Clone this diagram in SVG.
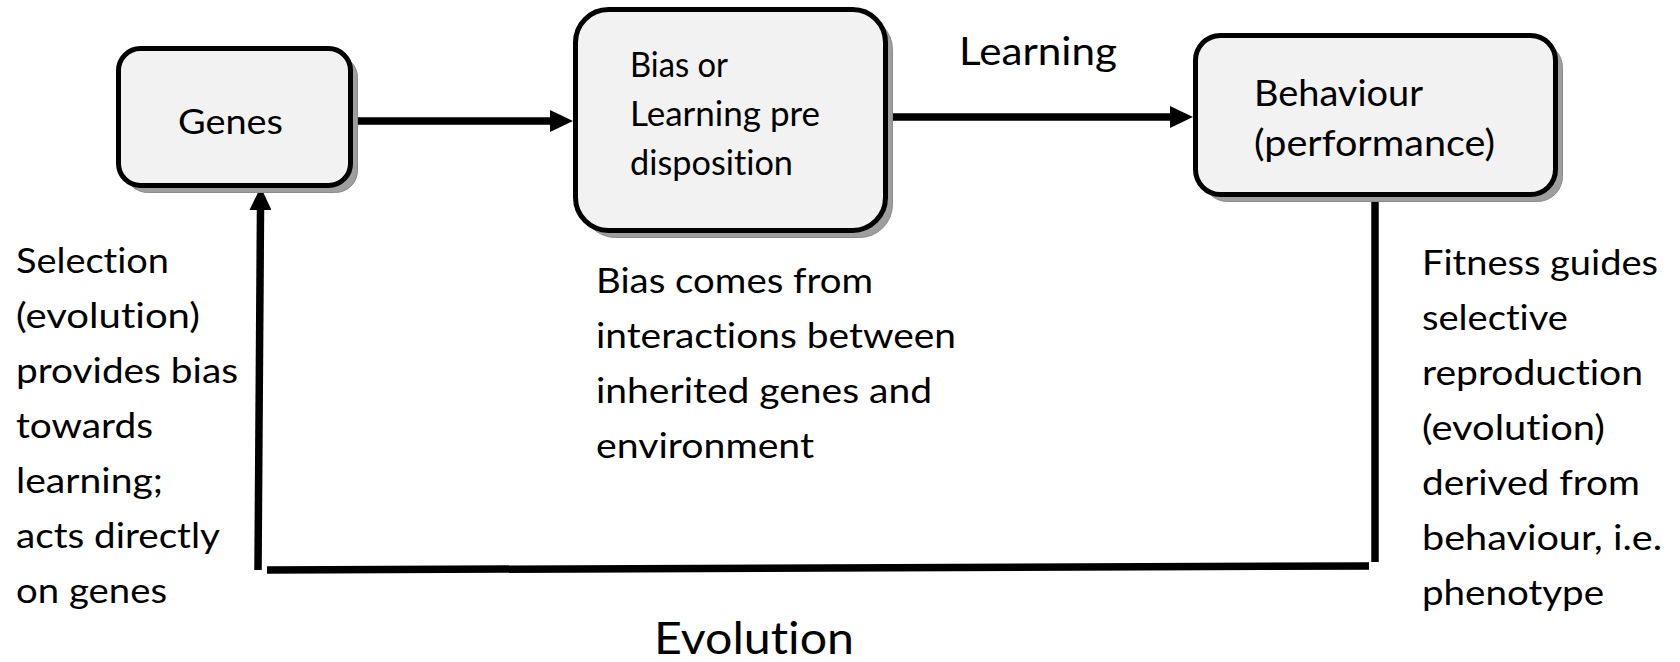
<svg xmlns="http://www.w3.org/2000/svg" width="1680" height="662" viewBox="0 0 1680 662">
<style>
  .shadow { fill: #9e9e9e; stroke: #8a8a8a; stroke-width: 1; }
  .box { fill: #f2f2f2; stroke: #000; stroke-width: 5; }
  text { font-family: Lato, "Liberation Sans", Arial, sans-serif; fill: #000; font-variant-ligatures: none; }
  .t32 { font-size: 34px; }
  .t34 { font-size: 34px; }
  .t35 { font-size: 35px; }
  .conn { stroke: #000; stroke-width: 7.5; fill: none; }
</style>
<defs>
  <marker id="arrow" markerUnits="userSpaceOnUse" markerWidth="23" markerHeight="22" refX="0" refY="11" orient="auto">
    <path d="M0,0 L23,11 L0,22 z" fill="#000"/>
  </marker>
</defs>
<rect width="1680" height="662" fill="#fff"/>

<g id="connectors">
  <line class="conn" x1="356" y1="121" x2="550" y2="121" marker-end="url(#arrow)"/>
  <line class="conn" x1="888" y1="117" x2="1170" y2="117" marker-end="url(#arrow)"/>
  <line class="conn" x1="1375" y1="197" x2="1375" y2="562"/>
  <line class="conn" x1="1369" y1="566" x2="267" y2="570"/>
  <line class="conn" x1="258" y1="570" x2="260.5" y2="210" marker-end="url(#arrow)"/>
</g>

<g id="node-genes">
  <rect class="shadow" x="125.5" y="55.5" width="232" height="137" rx="22"/>
  <rect class="box" x="118.5" y="48.5" width="232" height="137" rx="22"/>
  <text class="t32" x="178" y="134" textLength="105" lengthAdjust="spacingAndGlyphs">Genes</text>
</g>

<g id="node-bias">
  <rect class="shadow" x="582.5" y="16.5" width="310" height="221" rx="33"/>
  <rect class="box" x="575.5" y="9.5" width="310" height="221" rx="33"/>
  <text class="t32" x="630" y="77" textLength="98" lengthAdjust="spacingAndGlyphs">Bias or</text>
  <text class="t32" x="630" y="126" textLength="190" lengthAdjust="spacingAndGlyphs">Learning pre</text>
  <text class="t32" x="630" y="175" textLength="163" lengthAdjust="spacingAndGlyphs">disposition</text>
</g>

<g id="node-behaviour">
  <rect class="shadow" x="1202.5" y="42.5" width="360" height="159" rx="25"/>
  <rect class="box" x="1195.5" y="35.5" width="360" height="159" rx="25"/>
  <text x="1254" y="106" font-size="36" textLength="169" lengthAdjust="spacingAndGlyphs">Behaviour</text>
  <text x="1254" y="156" font-size="36" textLength="241" lengthAdjust="spacingAndGlyphs">(performance)</text>
</g>

<g id="label-learning">
  <text x="959" y="65" font-size="38" textLength="158" lengthAdjust="spacingAndGlyphs">Learning</text>
</g>

<g id="label-selection">
  <text class="t35" x="16" y="273" textLength="153" lengthAdjust="spacingAndGlyphs">Selection</text>
  <text class="t35" x="16" y="328" textLength="184" lengthAdjust="spacingAndGlyphs">(evolution)</text>
  <text class="t35" x="16" y="383" textLength="222" lengthAdjust="spacingAndGlyphs">provides bias</text>
  <text class="t35" x="16" y="438" textLength="137" lengthAdjust="spacingAndGlyphs">towards</text>
  <text class="t35" x="16" y="493" textLength="147" lengthAdjust="spacingAndGlyphs">learning;</text>
  <text class="t35" x="16" y="548" textLength="204" lengthAdjust="spacingAndGlyphs">acts directly</text>
  <text class="t35" x="16" y="603" textLength="151" lengthAdjust="spacingAndGlyphs">on genes</text>
</g>

<g id="label-bias-comes">
  <text class="t35" x="596" y="293" textLength="277" lengthAdjust="spacingAndGlyphs">Bias comes from</text>
  <text class="t35" x="596" y="348" textLength="360" lengthAdjust="spacingAndGlyphs">interactions between</text>
  <text class="t35" x="596" y="403" textLength="336" lengthAdjust="spacingAndGlyphs">inherited genes and</text>
  <text class="t35" x="596" y="458" textLength="218" lengthAdjust="spacingAndGlyphs">environment</text>
</g>

<g id="label-fitness">
  <text class="t34" x="1422" y="275" textLength="236" lengthAdjust="spacingAndGlyphs">Fitness guides</text>
  <text class="t34" x="1422" y="330" textLength="146" lengthAdjust="spacingAndGlyphs">selective</text>
  <text class="t34" x="1422" y="385" textLength="221" lengthAdjust="spacingAndGlyphs">reproduction</text>
  <text class="t34" x="1422" y="440" textLength="183" lengthAdjust="spacingAndGlyphs">(evolution)</text>
  <text class="t34" x="1422" y="495" textLength="218" lengthAdjust="spacingAndGlyphs">derived from</text>
  <text class="t34" x="1422" y="550" textLength="240" lengthAdjust="spacingAndGlyphs">behaviour, i.e.</text>
  <text class="t34" x="1422" y="605" textLength="182" lengthAdjust="spacingAndGlyphs">phenotype</text>
</g>

<g id="label-evolution">
  <text x="654" y="654" font-size="45" textLength="200" lengthAdjust="spacingAndGlyphs">Evolution</text>
</g>
</svg>
